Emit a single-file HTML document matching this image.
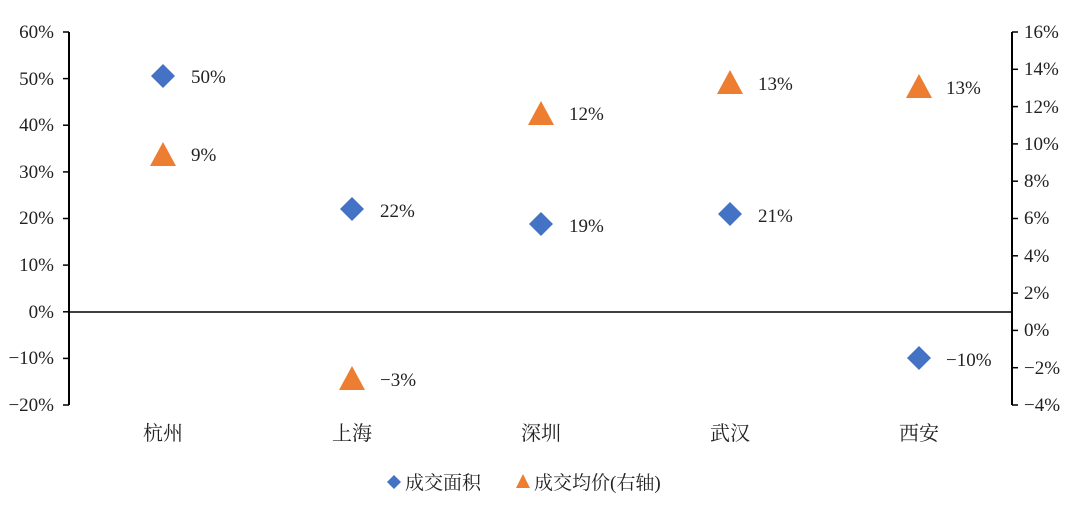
<!DOCTYPE html>
<html><head><meta charset="utf-8"><style>
html,body{margin:0;padding:0;background:#fff;}
svg text{font-family:"Liberation Serif","Noto Serif CJK SC",serif;font-size:19px;fill:#222;}
</style></head><body>
<svg width="1080" height="517" xmlns="http://www.w3.org/2000/svg">
<g stroke="#000" stroke-width="2">
<line x1="69" y1="32" x2="69" y2="405"/>
<line x1="1012" y1="32" x2="1012" y2="405"/>
<line x1="69" y1="312" x2="1012" y2="312" stroke-width="1.5"/>
</g>
<g stroke="#000" stroke-width="1.5">
<line x1="63" y1="32" x2="69" y2="32"/><line x1="63" y1="78.6" x2="69" y2="78.6"/><line x1="63" y1="125.2" x2="69" y2="125.2"/><line x1="63" y1="171.9" x2="69" y2="171.9"/><line x1="63" y1="218.5" x2="69" y2="218.5"/><line x1="63" y1="265.1" x2="69" y2="265.1"/><line x1="63" y1="311.8" x2="69" y2="311.8"/><line x1="63" y1="358.4" x2="69" y2="358.4"/><line x1="63" y1="405" x2="69" y2="405"/>
<line x1="1012" y1="32" x2="1018" y2="32"/><line x1="1012" y1="69.3" x2="1018" y2="69.3"/><line x1="1012" y1="106.6" x2="1018" y2="106.6"/><line x1="1012" y1="143.9" x2="1018" y2="143.9"/><line x1="1012" y1="181.2" x2="1018" y2="181.2"/><line x1="1012" y1="218.5" x2="1018" y2="218.5"/><line x1="1012" y1="255.8" x2="1018" y2="255.8"/><line x1="1012" y1="293.1" x2="1018" y2="293.1"/><line x1="1012" y1="330.4" x2="1018" y2="330.4"/><line x1="1012" y1="367.7" x2="1018" y2="367.7"/><line x1="1012" y1="405" x2="1018" y2="405"/>
</g>
<g text-anchor="end">
<text x="54" y="38">60%</text><text x="54" y="85">50%</text><text x="54" y="131">40%</text><text x="54" y="178">30%</text><text x="54" y="224">20%</text><text x="54" y="271">10%</text><text x="54" y="318">0%</text><text x="54" y="364">−10%</text><text x="54" y="411">−20%</text>
</g>
<g>
<text x="1024" y="38">16%</text><text x="1024" y="75">14%</text><text x="1024" y="113">12%</text><text x="1024" y="150">10%</text><text x="1024" y="187">8%</text><text x="1024" y="224">6%</text><text x="1024" y="262">4%</text><text x="1024" y="299">2%</text><text x="1024" y="336">0%</text><text x="1024" y="374">−2%</text><text x="1024" y="411">−4%</text>
</g>
<g text-anchor="middle">
<text x="163" y="440" style="font-size:20px">杭州</text><text x="352" y="440" style="font-size:20px">上海</text><text x="541" y="440" style="font-size:20px">深圳</text><text x="730" y="440" style="font-size:20px">武汉</text><text x="919" y="440" style="font-size:20px">西安</text>
</g>
<g fill="#4472C4">
<polygon points="163,64 175,76 163,88 151,76"/>
<polygon points="352,197 364,209 352,221 340,209"/>
<polygon points="541,212 553,224 541,236 529,224"/>
<polygon points="730,202 742,214 730,226 718,214"/>
<polygon points="919,346 931,358 919,370 907,358"/>
</g>
<g fill="#ED7D31">
<polygon points="163,142 176,166 150,166"/>
<polygon points="352,366 365,390 339,390"/>
<polygon points="541,101 554,125 528,125"/>
<polygon points="730,70 743,94 717,94"/>
<polygon points="919,74 932,98 906,98"/>
</g>
<g>
<text x="191" y="83">50%</text><text x="191" y="161">9%</text>
<text x="380" y="217">22%</text><text x="380" y="386">−3%</text>
<text x="569" y="232">19%</text><text x="569" y="120">12%</text>
<text x="758" y="222">21%</text><text x="758" y="90">13%</text>
<text x="946" y="366">−10%</text><text x="946" y="94">13%</text>
</g>
<polygon points="394,475 401,482 394,489 387,482" fill="#4472C4"/>
<text x="405" y="489">成交面积</text>
<polygon points="523,474 530,488 516,488" fill="#ED7D31"/>
<text x="534" y="489">成交均价(右轴)</text>
</svg>
</body></html>
